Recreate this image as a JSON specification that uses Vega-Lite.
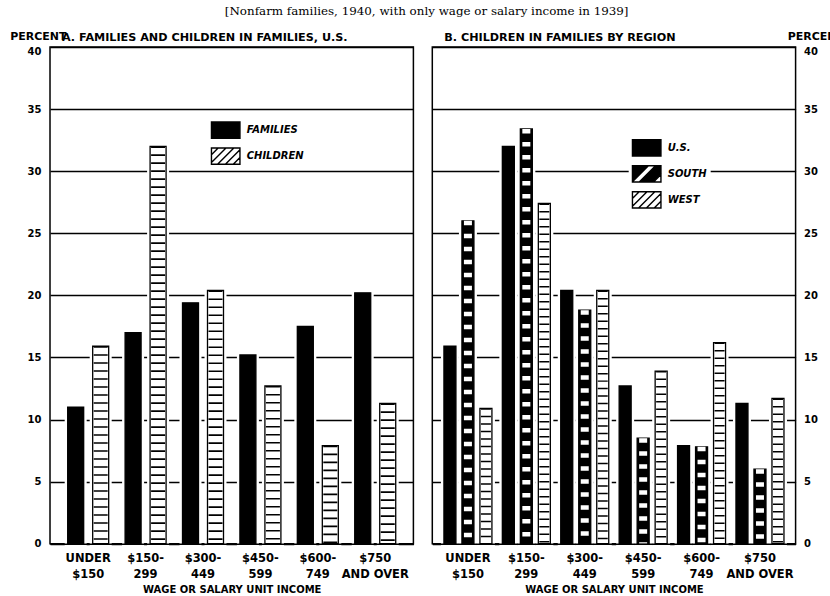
{
  "$schema": "https://vega.github.io/schema/vega-lite/v6.json",
  "padding": {"left": 8, "top": 5, "right": 0, "bottom": 0},
  "background": "white",
  "title": {"text": "[Nonfarm families, 1940, with only wage or salary income in 1939]", "font": "DejaVu Serif", "fontSize": 11.9, "fontWeight": "normal", "color": "black", "anchor": "middle", "frame": "bounds", "offset": 12},
  "spacing": 18.3,
  "bounds": "flush",
  "config": {
    "font": "DejaVu Sans",
    "view": {"stroke": "black", "strokeWidth": 1.5},
    "axis": {"labelColor": "black", "titleColor": "black", "labelFont": "DejaVu Sans", "titleFont": "DejaVu Sans", "labelFontWeight": "bold", "titleFontWeight": "bold"},
    "legend": {"labelColor": "black", "labelFont": "DejaVu Sans"}
  },
  "hconcat": [
    {
      "width": 363.4,
      "height": 496.7,
      "title": {"text": "A. FAMILIES AND CHILDREN IN FAMILIES, U.S.", "anchor": "start", "frame": "group", "orient": "top", "offset": -21, "dx": 12, "baseline": "alphabetic", "font": "DejaVu Sans", "fontSize": 11.2, "fontWeight": "bold", "color": "black"},
      "data": {"values": [
        {"income": "UNDER $150", "series": "FAMILIES", "percent": 11.0},
        {"income": "$150-299", "series": "FAMILIES", "percent": 17.0},
        {"income": "$300-449", "series": "FAMILIES", "percent": 19.4},
        {"income": "$450-599", "series": "FAMILIES", "percent": 15.2},
        {"income": "$600-749", "series": "FAMILIES", "percent": 17.5},
        {"income": "$750 AND OVER", "series": "FAMILIES", "percent": 20.2},
        {"income": "UNDER $150", "series": "CHILDREN", "percent": 15.9},
        {"income": "$150-299", "series": "CHILDREN", "percent": 32.0},
        {"income": "$300-449", "series": "CHILDREN", "percent": 20.4},
        {"income": "$450-599", "series": "CHILDREN", "percent": 12.7},
        {"income": "$600-749", "series": "CHILDREN", "percent": 7.9},
        {"income": "$750 AND OVER", "series": "CHILDREN", "percent": 11.3}
      ]},
      "encoding": {
        "x": {"field": "income", "type": "nominal", "sort": ["UNDER $150", "$150-299", "$300-449", "$450-599", "$600-749", "$750 AND OVER"],
          "scale": {"paddingInner": 0, "paddingOuter": 0.165},
          "axis": {"orient": "bottom", "domain": true, "domainColor": "black", "domainWidth": 1.5, "ticks": false, "grid": false, "labelAngle": 0, "labelPadding": 9, "labelFontSize": 11.5, "labelLineHeight": 16, "labelAlign": "center",
            "labelExpr": "datum.label == 'UNDER $150' ? ['UNDER', '$150'] : datum.label == '$750 AND OVER' ? ['$750', 'AND OVER'] : [substring(datum.label, 0, 5), substring(datum.label, 5)]",
            "title": "WAGE OR SALARY UNIT INCOME", "titleFontSize": 10, "titlePadding": 4, "zindex": 1}},
        "y": {"field": "percent", "type": "quantitative", "scale": {"domain": [0, 40], "nice": false},
          "axis": {"orient": "left", "values": [0, 5, 10, 15, 20, 25, 30, 35, 40], "grid": true, "gridColor": "black", "gridWidth": 1.4, "domain": false, "ticks": false, "labelPadding": 9, "labelFontSize": 10,
            "labelBaseline": {"condition": {"test": "datum.value === 40", "value": "top"}, "value": "middle"},
            "title": "PERCENT", "titleAngle": 0, "titleAlign": "left", "titleBaseline": "alphabetic", "titleX": -40.3, "titleY": -7, "titleFontSize": 11}}
      },
      "layer": [
        {"transform": [{"filter": "datum.series === 'FAMILIES'"}],
          "mark": {"type": "bar", "width": 16, "xOffset": -12.5, "fill": "white", "stroke": "white", "strokeWidth": 6}},
        {"transform": [{"filter": "datum.series === 'CHILDREN'"}],
          "mark": {"type": "bar", "width": 16, "xOffset": 12.5, "fill": "white", "stroke": "white", "strokeWidth": 6}},
        {"transform": [{"filter": "datum.series === 'FAMILIES'"}],
          "mark": {"type": "bar", "width": 16, "xOffset": -12.5, "stroke": "black", "strokeWidth": 1.3},
          "encoding": {"fill": {"field": "series", "type": "nominal", "scale": {"domain": ["FAMILIES", "CHILDREN"], "range": ["black", "white"]},
            "legend": {"orient": "none", "legendX": 157.7, "legendY": 65.1, "title": null, "fillColor": "white", "padding": 3,
              "symbolType": "M-1,-0.57H1V0.57H-1Z", "symbolSize": 812, "symbolStrokeColor": "black", "symbolStrokeWidth": 1.4,
              "labelFontSize": 10, "labelFontWeight": "bold", "labelFontStyle": "italic", "labelOffset": 6, "rowPadding": -4.5,
              "encode": {"symbols": {"update": {
                "shape": [{"test": "datum.value === 'CHILDREN'", "value": "M-1,-0.57H1V0.57H-1Z M-1,-0.1L-0.53,-0.57 M-1,0.45L0.02,-0.57 M-0.57,0.57L0.57,-0.57 M-0.02,0.57L1,-0.45 M0.53,0.57L1,0.1"}, {"value": "M-1,-0.57H1V0.57H-1Z"}],
                "stroke": {"value": "black"}, "strokeWidth": {"value": 1.4}}}}}}}},
        {"transform": [{"filter": "datum.series === 'CHILDREN'"}],
          "mark": {"type": "bar", "width": 16, "xOffset": 12.5, "stroke": "black", "strokeWidth": 1.3},
          "encoding": {"fill": {"field": "series", "type": "nominal"}}},
        {"transform": [{"filter": "datum.series === 'CHILDREN'"}],
          "mark": {"type": "rule", "xOffset": 12.5, "stroke": "black", "strokeWidth": 14, "strokeDash": [1.6, 6.4]},
          "encoding": {"y2": {"datum": 0}}}
      ]
    },
    {
      "width": 363.3,
      "height": 496.7,
      "title": {"text": "B. CHILDREN IN FAMILIES BY REGION", "anchor": "start", "frame": "group", "orient": "top", "offset": -21, "dx": 12, "baseline": "alphabetic", "font": "DejaVu Sans", "fontSize": 11.2, "fontWeight": "bold", "color": "black"},
      "data": {"values": [
        {"income": "UNDER $150", "series": "U.S.", "percent": 15.9},
        {"income": "$150-299", "series": "U.S.", "percent": 32.0},
        {"income": "$300-449", "series": "U.S.", "percent": 20.4},
        {"income": "$450-599", "series": "U.S.", "percent": 12.7},
        {"income": "$600-749", "series": "U.S.", "percent": 7.9},
        {"income": "$750 AND OVER", "series": "U.S.", "percent": 11.3},
        {"income": "UNDER $150", "series": "SOUTH", "percent": 26.0},
        {"income": "$150-299", "series": "SOUTH", "percent": 33.4},
        {"income": "$300-449", "series": "SOUTH", "percent": 18.8},
        {"income": "$450-599", "series": "SOUTH", "percent": 8.5},
        {"income": "$600-749", "series": "SOUTH", "percent": 7.8},
        {"income": "$750 AND OVER", "series": "SOUTH", "percent": 6.0},
        {"income": "UNDER $150", "series": "WEST", "percent": 10.9},
        {"income": "$150-299", "series": "WEST", "percent": 27.4},
        {"income": "$300-449", "series": "WEST", "percent": 20.4},
        {"income": "$450-599", "series": "WEST", "percent": 13.9},
        {"income": "$600-749", "series": "WEST", "percent": 16.2},
        {"income": "$750 AND OVER", "series": "WEST", "percent": 11.7}
      ]},
      "encoding": {
        "x": {"field": "income", "type": "nominal", "sort": ["UNDER $150", "$150-299", "$300-449", "$450-599", "$600-749", "$750 AND OVER"],
          "scale": {"paddingInner": 0, "paddingOuter": 0.11},
          "axis": {"orient": "bottom", "domain": true, "domainColor": "black", "domainWidth": 1.5, "ticks": false, "grid": false, "labelAngle": 0, "labelPadding": 9, "labelFontSize": 11.5, "labelLineHeight": 16, "labelAlign": "center",
            "labelExpr": "datum.label == 'UNDER $150' ? ['UNDER', '$150'] : datum.label == '$750 AND OVER' ? ['$750', 'AND OVER'] : [substring(datum.label, 0, 5), substring(datum.label, 5)]",
            "title": "WAGE OR SALARY UNIT INCOME", "titleFontSize": 10, "titlePadding": 4, "zindex": 1}},
        "y": {"field": "percent", "type": "quantitative", "scale": {"domain": [0, 40], "nice": false},
          "axis": {"orient": "right", "values": [0, 5, 10, 15, 20, 25, 30, 35, 40], "grid": true, "gridColor": "black", "gridWidth": 1.4, "domain": false, "ticks": false, "labelPadding": 8, "labelFontSize": 10, "labelAlign": "left",
            "labelBaseline": {"condition": {"test": "datum.value === 40", "value": "top"}, "value": "middle"},
            "title": "PERCENT", "titleAngle": 0, "titleAlign": "left", "titleBaseline": "alphabetic", "titleX": -8.3, "titleY": -7, "titleFontSize": 11}}
      },
      "layer": [
        {"transform": [{"filter": "datum.series === 'U.S.'"}],
          "mark": {"type": "bar", "width": 12, "xOffset": -18, "fill": "white", "stroke": "white", "strokeWidth": 6}},
        {"transform": [{"filter": "datum.series === 'SOUTH'"}],
          "mark": {"type": "bar", "width": 12, "fill": "white", "stroke": "white", "strokeWidth": 6}},
        {"transform": [{"filter": "datum.series === 'WEST'"}],
          "mark": {"type": "bar", "width": 12, "xOffset": 18, "fill": "white", "stroke": "white", "strokeWidth": 6}},
        {"transform": [{"filter": "datum.series === 'U.S.'"}],
          "mark": {"type": "bar", "width": 12, "xOffset": -18, "stroke": "black", "strokeWidth": 1.3},
          "encoding": {"color": {"field": "series", "type": "nominal", "scale": {"domain": ["U.S.", "SOUTH", "WEST"], "range": ["black", "black", "white"]},
            "legend": {"orient": "none", "legendX": 578.7, "legendY": 82.9, "title": null, "fillColor": "white", "padding": 3,
              "symbolType": "M-1,-0.57H1V0.57H-1Z", "symbolSize": 812, "symbolStrokeColor": "black", "symbolStrokeWidth": 1.4,
              "labelFontSize": 10, "labelFontWeight": "bold", "labelFontStyle": "italic", "labelOffset": 6, "rowPadding": -3,
              "encode": {"symbols": {"update": {
                "shape": [{"test": "datum.value === 'WEST'", "value": "M-1,-0.57H1V0.57H-1Z M-1,-0.1L-0.53,-0.57 M-1,0.45L0.02,-0.57 M-0.57,0.57L0.57,-0.57 M-0.02,0.57L1,-0.45 M0.53,0.57L1,0.1"}, {"test": "datum.value === 'SOUTH'", "value": "M-1,-0.57H1V0.57H-1Z M-1,0.55L-1,0.57L-0.52,0.57L0.62,-0.57L0.12,-0.57Z M0.48,0.57L1,0.57L1,0.05Z"}, {"value": "M-1,-0.57H1V0.57H-1Z"}],
                "stroke": {"value": "black"}, "strokeWidth": {"value": 1.4}}}}}}}},
        {"transform": [{"filter": "datum.series === 'SOUTH'"}],
          "mark": {"type": "bar", "width": 12, "stroke": "black", "strokeWidth": 1.3},
          "encoding": {"color": {"field": "series", "type": "nominal"}}},
        {"transform": [{"filter": "datum.series === 'WEST'"}],
          "mark": {"type": "bar", "width": 12, "xOffset": 18, "stroke": "black", "strokeWidth": 1.3},
          "encoding": {"color": {"field": "series", "type": "nominal"}}},
        {"transform": [{"filter": "datum.series === 'WEST'"}],
          "mark": {"type": "rule", "xOffset": 18, "stroke": "black", "strokeWidth": 10, "strokeDash": [1.5, 6]},
          "encoding": {"y2": {"datum": 0}}},
        {"transform": [{"filter": "datum.series === 'SOUTH'"}],
          "mark": {"type": "rule", "stroke": "white", "strokeWidth": 8, "strokeDash": [4.5, 8.5]},
          "encoding": {"y2": {"datum": 0}}}
      ]
    }
  ]
}
